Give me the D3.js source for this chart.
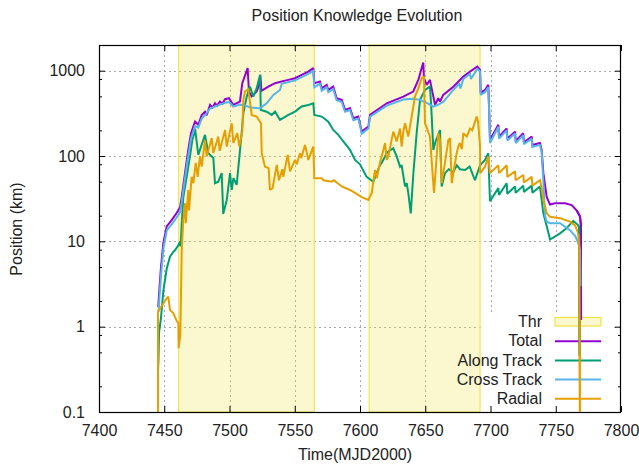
<!DOCTYPE html>
<html>
<head>
<meta charset="utf-8">
<script src="https://cdn.jsdelivr.net/npm/d3@7/dist/d3.min.js"></script>
<style>
  html, body { margin: 0; padding: 0; background: #fff; }
  svg { display: block; }
  text { font-family: "Liberation Sans", Arial, sans-serif; font-size: 16px; fill: #222; }
</style>
</head>
<body>
<svg id="chart" width="639" height="472"></svg>
<script>
// ---------- DATA ----------
const title = "Position Knowledge Evolution";
const xLabel = "Time(MJD2000)";
const yLabel = "Position (km)";
const xTicks = [7400, 7450, 7500, 7550, 7600, 7650, 7700, 7750, 7800];
const yTicks = [0.1, 1, 10, 100, 1000];
const yTickLabels = ["0.1", "1", "10", "100", "1000"];
const seriesNames = ["Total", "Along Track", "Cross Track", "Radial"];
const thrName = "Thr";
const thrStart = [7461, 7607];
const thrEnd = [7565, 7692];

const total = [
  [7445.4,1.7],[7446.0,2.4],[7447.5,5],[7449.3,9.5],[7451.9,15],[7455.7,17.7],[7459.5,21.5],[7462.1,25],
  [7463.4,33],[7465.9,63],[7468.4,118],[7470.5,185],[7473.6,253],[7476.1,232],[7478.7,303],[7481.2,330],
  [7482.5,300],[7485.1,397],[7487,370],[7488.9,415],[7490.5,390],[7492.7,435],[7494.5,410],[7496.6,463],
  [7499.6,476],[7502.9,397],[7508.0,435],[7509.8,714],[7513.9,1070],[7514.9,570],[7517.0,500],[7520.8,570],
  [7523.0,700],[7523.6,893],[7524.5,580],[7529.7,650],[7534.9,714],[7540.0,745],[7545.1,780],[7550.2,816],
  [7555.3,893],[7560.4,976],[7564.2,1070],[7565.0,714],[7569.3,745],[7570.7,620],[7574.5,682],[7575.7,595],
  [7579.5,650],[7582.1,476],[7586.0,455],[7588.5,347],[7592.3,364],[7594.9,277],[7598.7,290],[7600.8,210],
  [7601.3,193],[7606.4,221],[7607.7,303],[7620.5,415],[7633.2,497],[7640.8,570],[7644.7,780],[7648.5,1245],
  [7649.0,816],[7651.1,682],[7653.6,780],[7656.2,497],[7657.5,397],[7660.0,476],[7661.3,435],[7663.8,520],
  [7671.5,650],[7679.2,853],[7684.3,976],[7689.9,1120],[7692.0,1022],[7692.5,549],[7695.8,595],[7698.3,682],
  [7699.1,303],[7699.6,154],[7706.0,232],[7706.5,169],[7712.4,210],[7712.9,160],[7718.8,193],[7719.3,150],
  [7725.1,185],[7725.6,145],[7731.6,169],[7732.1,135],[7737.9,142],[7739.2,118],[7740.5,63],[7743.1,33],
  [7745.6,27],[7749.4,28],[7757.1,28],[7762.2,26.6],[7766.1,23],[7768.6,19.5],[7769.3,15.4],[7769.4,1.2]
];

const alongTrack = [
  [7445.2,0.3],[7445.6,0.42],[7446.0,0.85],[7447.5,1.27],[7449.3,2.63],[7451.9,4.8],[7454.4,6.6],[7456.9,7.5],
  [7458.2,7.85],[7460.8,9.0],[7462.1,9.9],[7462.5,8.7],[7463.4,16.3],[7464.6,33],[7467.2,57],[7469.7,99],
  [7471.5,154],[7473.0,185],[7473.6,210],[7476.1,103],[7479.9,154],[7481.2,177],[7483.8,108],[7487.6,95],
  [7488.9,48],[7491.4,50],[7494.0,63],[7495.2,21],[7497.9,30.5],[7500.4,63],[7501.7,40],[7503.0,55],
  [7505.5,46],[7509.3,185],[7510.6,318],[7513.2,497],[7515.7,650],[7518.2,497],[7520.8,620],[7523.4,893],
  [7524.0,347],[7528.5,330],[7532.3,303],[7534.9,331],[7538.7,265],[7545.1,303],[7550.2,331],[7555.3,380],
  [7560.4,397],[7564.2,415],[7565.0,303],[7570.7,290],[7575.7,253],[7579.5,202],[7583.4,177],[7587.2,148],
  [7592.3,118],[7596.2,90],[7600.0,80],[7605.1,57],[7610.2,50],[7612.8,63],[7615.3,78],[7616.6,83],
  [7620.5,108],[7621.7,113],[7625.5,123],[7628.1,99],[7630.7,75],[7631.9,78],[7634.5,44],[7635.8,48],
  [7637.0,37],[7638.9,21.3],[7640.8,60],[7643.4,185],[7646.0,455],[7649.8,595],[7653.6,650],[7654.5,400],
  [7656.2,118],[7658.0,150],[7660.0,177],[7661.3,202],[7662.6,44],[7665.1,63],[7668.0,70],[7671.5,65],
  [7674.1,78],[7676.6,70],[7680.5,68.6],[7684.0,75],[7688.1,52],[7692.0,78],[7695.8,90],[7698.3,108],
  [7699.6,29.5],[7706.0,42],[7706.5,35],[7712.4,48],[7712.9,36],[7718.8,44],[7719.3,37],[7725.1,45],
  [7725.6,38],[7731.6,45],[7732.1,37],[7737.9,44],[7739.2,30.5],[7740.5,21.3],[7743.1,15],[7745.6,10.5],
  [7753.3,12.4],[7758.4,14.3],[7763.4,17.4],[7767.3,15.4],[7768.0,14.5],[7768.3,0.46]
];

const crossTrack = [
  [7445.7,1.5],[7446.3,2.2],[7447.8,4.5],[7449.5,8.5],[7452.0,13.5],[7456.0,16],[7459.5,19],[7462.1,22],
  [7463.4,29],[7465.9,55],[7468.4,100],[7470.5,160],[7473.6,225],[7476.1,215],[7478.7,275],[7481.2,300],
  [7485.1,360],[7488.9,380],[7492.7,400],[7496.6,420],[7499.6,430],[7502.9,380],[7508.0,400],[7512.0,390],
  [7516.0,370],[7520.8,365],[7523.4,364],[7528.5,415],[7533.6,520],[7538.7,595],[7540.0,700],[7545.1,735],
  [7550.2,770],[7555.3,840],[7560.4,920],[7564.2,1000],[7565.0,640],[7569.3,700],[7570.7,580],[7574.5,640],
  [7575.7,560],[7579.5,610],[7582.1,450],[7586.0,430],[7588.5,330],[7592.3,345],[7594.9,262],[7598.7,275],
  [7600.8,200],[7601.3,183],[7606.4,210],[7607.7,290],[7620.5,390],[7633.2,460],[7640.8,470],[7646.0,455],
  [7651.1,420],[7656.2,380],[7660.0,400],[7663.8,430],[7671.5,595],[7676.0,700],[7677.0,620],[7679.2,800],
  [7684.3,920],[7685.0,800],[7689.9,1050],[7692.0,980],[7692.5,520],[7695.8,560],[7698.3,640],[7699.1,290],
  [7699.6,142],[7706.0,220],[7706.5,160],[7712.4,200],[7712.9,152],[7718.8,183],[7719.3,142],[7725.1,176],
  [7725.6,138],[7731.6,160],[7732.1,128],[7737.9,135],[7739.2,112],[7740.5,50],[7741.8,20],[7743.1,17],
  [7745.6,16.3],[7753.3,16.3],[7760.9,13.5],[7764.8,11.6],[7767.3,9.6],[7768.6,7.9],[7769.0,3]
];

const radial = [
  [7445.2,0.05],[7445.2,1.5],[7449.3,1.87],[7451.9,2.15],[7453.1,2.25],[7454.4,1.57],[7456.9,1.44],[7459.5,1.17],
  [7460.8,1.1],[7461.0,0.56],[7461.8,0.7],[7462.3,0.8],[7463.4,7.85],[7464.6,17.7],[7465.9,28],[7466.5,16.3],
  [7468.4,40],[7469.0,23],[7471.0,57],[7472.3,48],[7474.1,83],[7475.6,57],[7477.4,99],[7478.7,75],
  [7481.2,154],[7482.5,99],[7486.4,162],[7487.6,108],[7491.4,169],[7492.5,115],[7496.6,202],[7497.9,129],
  [7501.7,242],[7502.9,142],[7506.0,185],[7507.5,129],[7509.8,193],[7510.6,455],[7511.9,570],[7514.4,607],
  [7517.0,303],[7520.8,290],[7524.1,242],[7524.7,108],[7527.2,75],[7530.0,72],[7531.0,40],[7533.0,42],
  [7536.2,78.5],[7537.9,52],[7540.5,70],[7541.2,57],[7544.6,103],[7546.4,66],[7550.2,90],[7551.5,80],
  [7554.0,108],[7555.0,95],[7557.9,135],[7560.4,90],[7564.2,129],[7565.0,55],[7570.7,55],[7572.0,52],
  [7578.3,50],[7580.0,52],[7586.0,44],[7592.3,40],[7596.2,37],[7601.3,33],[7606.4,30.5],[7609.0,37],
  [7611.5,68.6],[7612.8,55],[7615.3,83],[7617.9,118],[7619.2,142],[7620.5,90],[7621.7,99],[7625.5,193],
  [7628.1,148],[7630.7,210],[7631.9,129],[7633.2,193],[7634.5,242],[7637.0,169],[7639.6,290],[7642.1,497],
  [7644.7,620],[7647.3,816],[7649.0,853],[7649.8,242],[7653.6,169],[7656.7,37],[7658.2,75],[7660.0,185],
  [7661.3,154],[7662.6,48],[7665.1,83],[7667.7,154],[7669.0,162],[7670.3,48],[7671.5,63],[7674.1,108],
  [7675.3,129],[7676.6,142],[7678.0,120],[7679.2,185],[7681.8,169],[7684.3,210],[7686.0,200],[7689.4,290],
  [7690.5,250],[7692.0,129],[7692.1,63],[7695.8,75],[7698.3,99],[7699.6,63],[7706.0,78],[7706.5,63],
  [7712.4,78],[7712.9,57],[7718.8,66],[7719.3,52],[7725.1,60],[7725.6,49],[7731.6,57],[7732.1,45],
  [7737.9,52],[7739.2,42],[7740.5,30.5],[7743.1,21.3],[7745.6,19.4],[7753.3,18.7],[7760.9,17],[7764.8,15.4],
  [7767.3,12.4],[7768.0,9],[7768.6,0.05]
];

const seriesData = [total, alongTrack, crossTrack, radial];
const seriesColors = ["#9400d3", "#009e73", "#56b4e9", "#e69f00"];
const thrFill = "#f0e442";

// ---------- LAYOUT ----------
const svg = d3.select("#chart");
const m = { left: 99, right: 621, top: 45, bottom: 412 };

const x = d3.scaleLinear().domain([7400, 7800]).range([m.left, m.right]);
const y = d3.scaleLog().domain([0.1, 2000]).range([m.bottom, m.top]);

// minor tick values (2,5,8 x decades)
const minorVals = [];
[0.1, 1, 10, 100, 1000].forEach(d => [2, 5, 8].forEach(k => { const v = d * k; if (v <= 2000) minorVals.push(v); }));

// grid
const grid = svg.append("g").attr("stroke", "#a8a8a8").attr("stroke-width", 1).attr("stroke-dasharray", "2,3");
yTicks.slice(1).forEach(v => {
  grid.append("line").attr("x1", m.left).attr("x2", m.right).attr("y1", Math.round(y(v)) + 0.5).attr("y2", Math.round(y(v)) + 0.5);
});
xTicks.slice(1, -1).forEach(v => {
  grid.append("line").attr("x1", Math.round(x(v)) + 0.5).attr("x2", Math.round(x(v)) + 0.5).attr("y1", m.top).attr("y2", m.bottom);
});

// threshold bands
const bands = svg.append("g");
thrStart.forEach((s, i) => {
  bands.append("rect")
    .attr("x", x(s)).attr("y", m.top)
    .attr("width", x(thrEnd[i]) - x(s)).attr("height", m.bottom - m.top)
    .attr("fill", thrFill).attr("fill-opacity", 0.25)
    .attr("stroke", thrFill).attr("stroke-width", 1.2).attr("stroke-opacity", 0.9);
});

// legend background
svg.append("rect").attr("x", 483).attr("y", 312).attr("width", 128).attr("height", m.bottom - 312 - 0.5).attr("fill", "#fff");

// clip
svg.append("clipPath").attr("id", "clip").append("rect")
  .attr("x", m.left).attr("y", m.top).attr("width", m.right - m.left).attr("height", m.bottom - m.top);

const line = d3.line().x(d => x(d[0])).y(d => y(d[1]));
const linesG = svg.append("g").attr("clip-path", "url(#clip)");
seriesData.forEach((data, i) => {
  linesG.append("path").datum(data)
    .attr("d", line).attr("fill", "none")
    .attr("stroke", seriesColors[i]).attr("stroke-width", 2)
    .attr("stroke-linejoin", "miter").attr("stroke-miterlimit", 2);
});

// axes
function styleAxis(g) {
  g.select(".domain").remove();
  g.selectAll(".tick line").attr("stroke", "#000");
  g.selectAll("text").attr("fill", "#222").style("font-family", "'Liberation Sans', Arial, sans-serif").style("font-size", "16px");
}
svg.append("g").attr("transform", `translate(${m.left},0)`)
  .call(d3.axisLeft(y).tickValues(yTicks).tickFormat((d, i) => yTickLabels[i]).tickSize(-6).tickPadding(14))
  .call(styleAxis);
svg.append("g").attr("transform", `translate(${m.left},0)`)
  .call(d3.axisLeft(y).tickValues(minorVals).tickFormat("").tickSize(-3))
  .call(styleAxis);
svg.append("g").attr("transform", `translate(${m.right},0)`)
  .call(d3.axisRight(y).tickValues(yTicks).tickFormat("").tickSize(-6))
  .call(styleAxis);
svg.append("g").attr("transform", `translate(${m.right},0)`)
  .call(d3.axisRight(y).tickValues(minorVals).tickFormat("").tickSize(-3))
  .call(styleAxis);
svg.append("g").attr("transform", `translate(0,${m.bottom})`)
  .call(d3.axisBottom(x).tickValues(xTicks).tickFormat(d3.format("d")).tickSize(-6).tickPadding(13))
  .call(styleAxis);
svg.append("g").attr("transform", `translate(0,${m.top})`)
  .call(d3.axisTop(x).tickValues(xTicks).tickFormat("").tickSize(-6))
  .call(styleAxis);

// border
svg.append("rect").attr("x", m.left + 0.5).attr("y", m.top + 0.5)
  .attr("width", m.right - m.left - 1).attr("height", m.bottom - m.top)
  .attr("fill", "none").attr("stroke", "#000").attr("stroke-width", 1.2);

// titles
svg.append("text").attr("x", 357).attr("y", 21).attr("text-anchor", "middle").text(title);
svg.append("text").attr("x", 355).attr("y", 460).attr("text-anchor", "middle").text(xLabel);
svg.append("text").attr("transform", "translate(22,229) rotate(-90)").attr("text-anchor", "middle").text(yLabel);

// legend
const lg = svg.append("g");
const legendRows = [thrName].concat(seriesNames);
legendRows.forEach((name, i) => {
  const cy = 321.5 + i * 19.2;
  lg.append("text").attr("x", 542).attr("y", cy).attr("dy", "0.35em").attr("text-anchor", "end").text(name);
  if (i === 0) {
    lg.append("rect").attr("x", 555).attr("y", cy - 4).attr("width", 46).attr("height", 8.5)
      .attr("fill", thrFill).attr("fill-opacity", 0.25).attr("stroke", thrFill).attr("stroke-width", 1.2);
  } else {
    lg.append("line").attr("x1", 555).attr("x2", 601).attr("y1", cy + 0.5).attr("y2", cy + 0.5)
      .attr("stroke", seriesColors[i - 1]).attr("stroke-width", 2);
  }
});
// redraw the data ends over legend (lines drawn on top of key in reference)
const topLines = svg.append("g").attr("clip-path", "url(#clip)");
seriesData.forEach((data, i) => {
  topLines.append("path").datum(data.filter(d => d[0] > 7766))
    .attr("d", line).attr("fill", "none")
    .attr("stroke", seriesColors[i]).attr("stroke-width", 2);
});
</script>
</body>
</html>
